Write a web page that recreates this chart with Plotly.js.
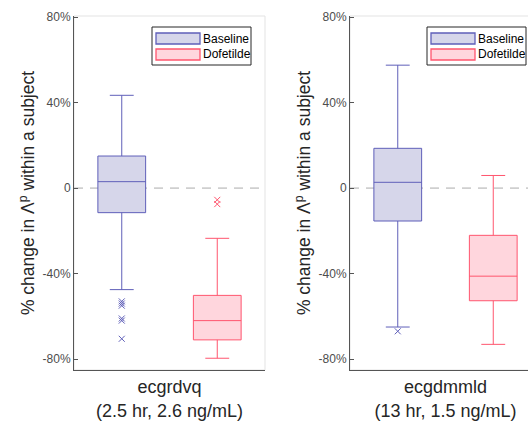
<!DOCTYPE html>
<html>
<head>
<meta charset="utf-8">
<script src="https://cdn.plot.ly/plotly-3.0.1.min.js"></script>
<style>
html, body { margin:0; padding:0; width:528px; height:424px; overflow:hidden; background:#fff; }
#chart { width:560px; height:424px; }
</style>
</head>
<body>
<div id="chart"></div>
<script>
// ---- data (percent change) ----
const groupNames = ["Baseline", "Dofetilde"];
const panelTitles = ["ecgrdvq<br>(2.5 hr, 2.6 ng/mL)", "ecgdmmld<br>(13 hr, 1.5 ng/mL)"];
const yTickVals = [-80, -40, 0, 40, 80];
const yTickText = ["-80%", "-40%", "0", "40%", "80%"];

// panel 1: ecgrdvq
const p1BaseStats = {lower: -47.5, q1: -11.5, median: 3, q3: 15, upper: 43.4};
const p1BaseOutliers = [-53, -54, -55, -61, -62, -70.5];
const p1DofStats = {lower: -79.6, q1: -71, median: -62, q3: -50.2, upper: -23.5};
const p1DofOutliers = [-5.5, -7.5];

// panel 2: ecgdmmld
const p2BaseStats = {lower: -65, q1: -15.4, median: 2.7, q3: 18.6, upper: 57.5};
const p2BaseOutliers = [-67];
const p2DofStats = {lower: -73.1, q1: -52.7, median: -41.2, q3: -22.1, upper: 5.9};
const p2DofOutliers = [];

// ---- styling ----
const lineCols = ["rgb(95,95,185)", "rgb(255,85,110)"];
const fillCols = ["rgb(214,214,234)", "rgb(255,214,221)"];
const W = 560, H = 424;
const FONT = "Liberation Sans, Arial, sans-serif";

function boxTrace(stats, gi, xa, ya) {
  return {
    type: "box", name: groupNames[gi], x: [gi + 1],
    q1: [stats.q1], median: [stats.median], q3: [stats.q3],
    lowerfence: [stats.lower], upperfence: [stats.upper],
    width: 0.5, whiskerwidth: 0.5,
    fillcolor: fillCols[gi], line: {color: lineCols[gi], width: 1},
    boxpoints: false, hoverinfo: "y",
    xaxis: xa, yaxis: ya, showlegend: false
  };
}
function outTrace(vals, gi, xa, ya) {
  return {
    type: "scatter", mode: "markers", x: vals.map(() => gi + 1), y: vals,
    marker: {symbol: "x-thin-open", size: 6, line: {color: lineCols[gi], width: 1}, color: lineCols[gi]},
    xaxis: xa, yaxis: ya, showlegend: false, hoverinfo: "y"
  };
}

const data = [
  boxTrace(p1BaseStats, 0, "x", "y"),
  boxTrace(p1DofStats, 1, "x", "y"),
  outTrace(p1BaseOutliers, 0, "x", "y"),
  outTrace(p1DofOutliers, 1, "x", "y"),
  boxTrace(p2BaseStats, 0, "x2", "y2"),
  boxTrace(p2DofStats, 1, "x2", "y2"),
  outTrace(p2BaseOutliers, 0, "x2", "y2"),
  outTrace(p2DofOutliers, 1, "x2", "y2")
];

const yDom = [54 / H, 408 / H];
function xAxis(dom, title, anchor) {
  return {
    domain: dom, anchor: anchor, range: [0.5, 2.5], showticklabels: false, ticks: "",
    showgrid: false, zeroline: false, showline: true, linecolor: "#555", linewidth: 1,
    title: {text: title, font: {family: FONT, size: 18, color: "#262626"}, standoff: 10}
  };
}
function yAxis(dom, anchor) {
  return {
    domain: dom, anchor: anchor, range: [-85.1, 80.5],
    tickvals: yTickVals, ticktext: yTickText, ticks: "inside", ticklen: 4, tickcolor: "#555",
    tickfont: {family: FONT, size: 12, color: "#4d4d4d"},
    showgrid: false, zeroline: false, showline: true, linecolor: "#555", linewidth: 1,
    title: {text: "% change in Λ<sup>p</sup> within a subject", font: {family: FONT, size: 17.5, color: "#262626"}, standoff: 3}
  };
}
function frame(xr, yr) {
  return {type: "rect", xref: xr + " domain", yref: yr + " domain", x0: 0, x1: 1, y0: 0, y1: 1,
    line: {color: "#e3e3e3", width: 1}, layer: "below"};
}
function zeroLine(xr, yr) {
  return {type: "line", xref: xr + " domain", yref: yr, x0: 0, x1: 1, y0: 0, y1: 0,
    line: {color: "#cfcfcf", width: 1.6, dash: "9px,7px"}, layer: "below"};
}

// ---- hand-built legends (paper pixels -> paper fractions) ----
const px = v => v / W, py = v => 1 - v / H;
const shapes = [frame("x", "y"), frame("x2", "y2"), zeroLine("x", "y"), zeroLine("x2", "y2")];
const annotations = [];
function addLegend(left) {
  shapes.push({type: "rect", xref: "paper", yref: "paper", x0: px(left), x1: px(left + 99), y0: py(65), y1: py(27),
    line: {color: "#262626", width: 1}, fillcolor: "#fff", layer: "above"});
  groupNames.forEach((nm, i) => {
    const top = 33 + i * 16;
    shapes.push({type: "rect", xref: "paper", yref: "paper", x0: px(left + 4), x1: px(left + 48),
      y0: py(top + 11), y1: py(top), line: {color: lineCols[i], width: 1.3}, fillcolor: fillCols[i], layer: "above"});
    annotations.push({xref: "paper", yref: "paper", x: px(left + 49), y: py(top + 5.5), xanchor: "left", yanchor: "middle",
      text: nm, showarrow: false, font: {family: FONT, size: 12, color: "#000"}});
  });
}
addLegend(152);
addLegend(427);

const layout = {
  width: W, height: H, margin: {l: 0, r: 0, t: 0, b: 0},
  paper_bgcolor: "#fff", plot_bgcolor: "#fff",
  boxmode: "overlay", showlegend: false,
  font: {family: FONT},
  xaxis: xAxis([74 / W, 265 / W], panelTitles[0], "y"),
  yaxis: yAxis(yDom, "x"),
  xaxis2: xAxis([350 / W, 541 / W], panelTitles[1], "y2"),
  yaxis2: yAxis(yDom, "x2"),
  shapes: shapes,
  annotations: annotations
};

Plotly.newPlot("chart", data, layout, {displayModeBar: false, staticPlot: true});
</script>
</body>
</html>
